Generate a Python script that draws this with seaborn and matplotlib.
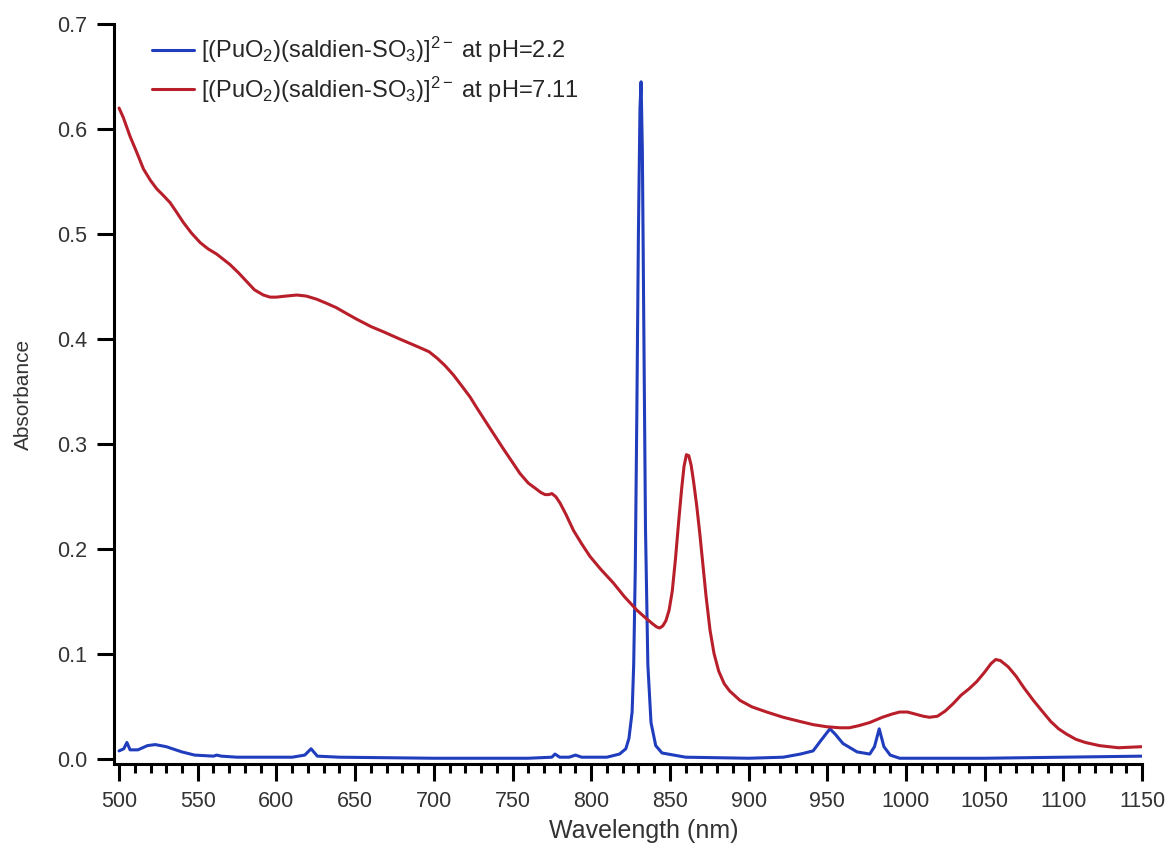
import numpy as np
import pandas as pd
import matplotlib
matplotlib.use("Agg")
import matplotlib.pyplot as plt
from matplotlib.ticker import MultipleLocator, FormatStrFormatter
import seaborn as sns

# ---- data ----
wl_acid = [500, 503, 505, 507, 512, 518, 523, 530, 540, 548, 560, 562, 565, 575, 590, 600, 610,
           618, 622, 626, 640, 700, 760, 775, 777, 780, 786, 790, 794, 810, 818, 822, 824, 826,
           827, 828, 829, 830, 831, 831.7, 832.5, 833.5, 834.5, 836, 838, 841, 845, 860, 900,
           922, 933, 941, 946, 951.7, 955, 960, 969, 977, 980, 983, 986, 990, 996, 1050, 1100, 1150]
abs_acid = [0.008, 0.010, 0.016, 0.009, 0.009, 0.013, 0.014, 0.012, 0.007, 0.004, 0.003, 0.004,
            0.003, 0.002, 0.002, 0.002, 0.002, 0.004, 0.010, 0.003, 0.002, 0.001, 0.001, 0.002,
            0.005, 0.002, 0.002, 0.004, 0.002, 0.002, 0.005, 0.010, 0.020, 0.045, 0.09, 0.18,
            0.33, 0.50, 0.62, 0.645, 0.58, 0.40, 0.22, 0.09, 0.035, 0.013, 0.006, 0.002, 0.001,
            0.002, 0.005, 0.008, 0.018, 0.029, 0.024, 0.015, 0.007, 0.005, 0.012, 0.029, 0.012,
            0.004, 0.001, 0.001, 0.002, 0.003]

wl_neutral = [500, 502.7, 507, 511.2, 515.5, 520, 524, 528, 532.4, 536.5, 540.9, 546, 551.5, 556.5,
              562, 570.5, 576, 581, 586, 591.7, 596, 600, 606, 613, 619, 625.6, 632, 638, 645,
              651, 660, 668, 678.5, 691, 697, 702, 707, 712.4, 717.5, 723, 728, 733.6, 744, 754.8,
              760, 765.4, 768, 770.7, 773, 775, 777.5, 780.2, 784, 788.7, 794, 799.3, 806, 814,
              821, 829, 835, 839, 841.6, 843.5, 845.5, 847.5, 849.5, 851.5, 853.5, 855.5, 857.5,
              859, 860.5, 862, 863.5, 865, 867, 869, 871, 873, 875.5, 878, 881, 884.5, 888,
              894.6, 902, 911.5, 922, 932.7, 941, 949.6, 958, 964, 970, 977, 985, 991, 996,
              1001, 1006, 1011, 1015, 1020, 1025, 1030, 1035, 1040, 1045, 1050, 1054, 1057,
              1060, 1065, 1070, 1075, 1081, 1087, 1092, 1097, 1102, 1108, 1114, 1123, 1135, 1150]
abs_neutral = [0.620, 0.611, 0.593, 0.578, 0.562, 0.551, 0.543, 0.537, 0.530, 0.521, 0.511, 0.501,
               0.492, 0.486, 0.481, 0.471, 0.463, 0.455, 0.447, 0.442, 0.440, 0.440, 0.441,
               0.442, 0.441, 0.438, 0.434, 0.430, 0.424, 0.419, 0.412, 0.407, 0.400, 0.392,
               0.388, 0.382, 0.375, 0.366, 0.356, 0.345, 0.333, 0.320, 0.296, 0.272, 0.263,
               0.257, 0.254, 0.252, 0.252, 0.253, 0.250, 0.244, 0.233, 0.218, 0.205, 0.193,
               0.181, 0.168, 0.155, 0.142, 0.134, 0.129, 0.126, 0.125, 0.127, 0.132, 0.142,
               0.160, 0.190, 0.225, 0.258, 0.279, 0.290, 0.289, 0.280, 0.265, 0.242, 0.215,
               0.185, 0.155, 0.123, 0.101, 0.084, 0.072, 0.065, 0.056, 0.050, 0.045, 0.040,
               0.036, 0.033, 0.031, 0.030, 0.030, 0.032, 0.035, 0.040, 0.043, 0.045, 0.045,
               0.043, 0.041, 0.040, 0.041, 0.046, 0.053, 0.061, 0.067, 0.074, 0.083, 0.091,
               0.095, 0.094, 0.088, 0.079, 0.068, 0.056, 0.045, 0.036, 0.029, 0.024, 0.019,
               0.016, 0.013, 0.011, 0.012]

label_acid = r"[(PuO$_2$)(saldien-SO$_3$)]$^{2-}$ at pH=2.2"
label_neutral = r"[(PuO$_2$)(saldien-SO$_3$)]$^{2-}$ at pH=7.11"

df = pd.concat([
    pd.DataFrame({"Wavelength": wl_acid, "Absorbance": abs_acid, "Sample": label_acid}),
    pd.DataFrame({"Wavelength": wl_neutral, "Absorbance": abs_neutral, "Sample": label_neutral}),
], ignore_index=True)

sns.set_style("ticks")
plt.rcParams["font.family"] = ["Liberation Sans", "DejaVu Sans"]
plt.rcParams["mathtext.fontset"] = "custom"
plt.rcParams["mathtext.rm"] = "Liberation Sans"
plt.rcParams["mathtext.it"] = "Liberation Sans:italic"
plt.rcParams["mathtext.bf"] = "Liberation Sans:bold"
plt.rcParams["axes.unicode_minus"] = False

fig = plt.figure(figsize=(11.73, 8.46), dpi=100)
ax = fig.add_axes([0.0972, 0.0969, 0.8764, 0.8747])

palette = {label_acid: "#1f3dbd", label_neutral: "#b81f2a"}
sns.lineplot(data=df, x="Wavelength", y="Absorbance", hue="Sample", palette=palette,
             estimator=None, sort=False, linewidth=2.2, ax=ax)

ax.set_xlim(496.8, 1150)
ax.set_ylim(-0.0045, 0.7)
ax.xaxis.set_major_locator(MultipleLocator(50))
ax.xaxis.set_minor_locator(MultipleLocator(10))
ax.yaxis.set_major_locator(MultipleLocator(0.1))
ax.yaxis.set_major_formatter(FormatStrFormatter("%.1f"))

for s in ["top", "right"]:
    ax.spines[s].set_visible(False)
for s in ["left", "bottom"]:
    ax.spines[s].set_linewidth(2.2)
    ax.spines[s].set_color("black")

ax.tick_params(axis="both", which="major", direction="out", length=12.5, width=2.2,
               labelsize=15.5, colors="black", labelcolor="#333333")
ax.tick_params(axis="x", which="minor", direction="out", length=6.5, width=2.2, color="black")
ax.tick_params(axis="x", which="major", pad=7)
ax.tick_params(axis="y", which="major", pad=7)

ax.set_xlabel("Wavelength (nm)", fontsize=18, color="#333333", labelpad=5)
ax.xaxis.label.set_x(0.515)
ax.set_ylabel("Absorbance", fontsize=15, color="#333333", labelpad=17)

leg = ax.legend(loc="upper left", bbox_to_anchor=(0.028, 0.998), frameon=False, fontsize=17,
                handlelength=1.75, handletextpad=0.3, labelspacing=0.4, borderaxespad=0.0)
for line in leg.get_lines():
    line.set_linewidth(2.2)

fig.savefig("out.png", dpi=100)
